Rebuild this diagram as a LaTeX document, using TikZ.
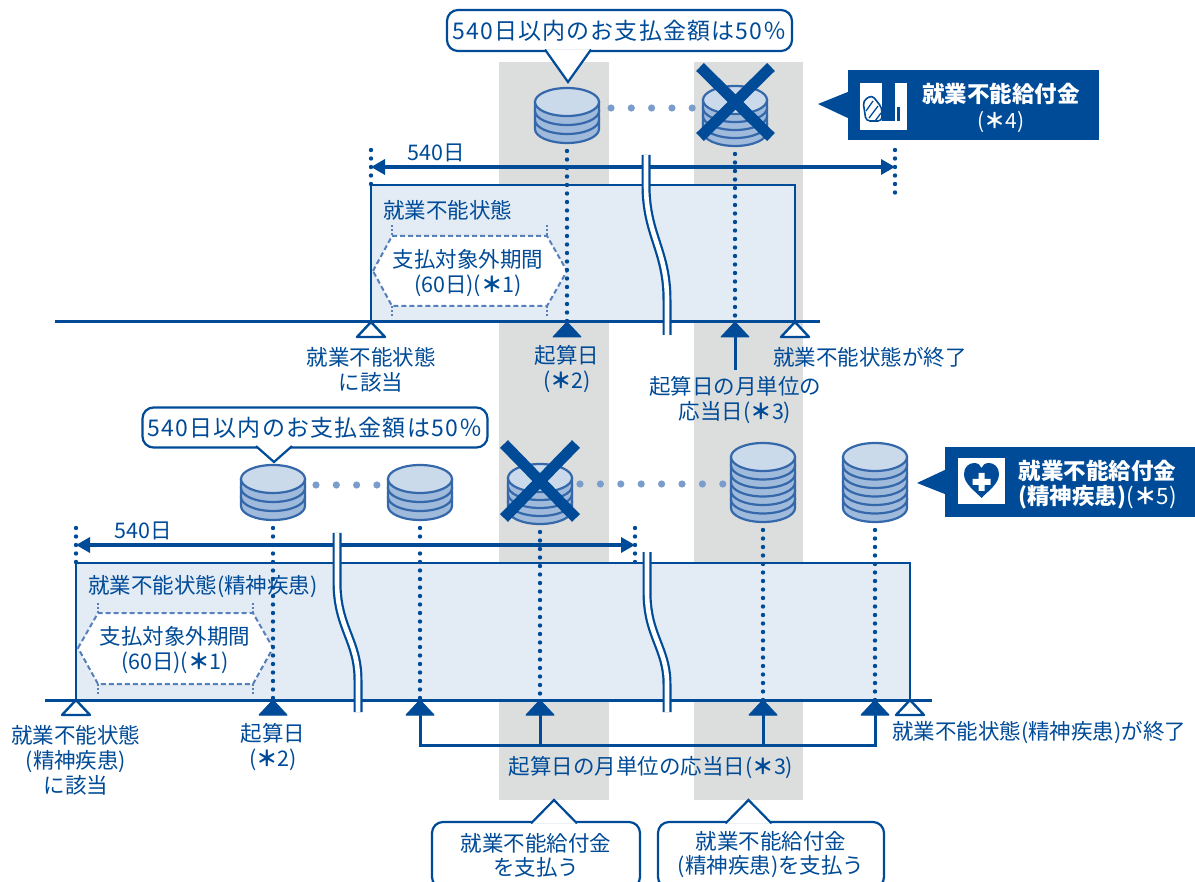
\documentclass[tikz,border=0pt]{standalone}
\usepackage{fontspec}
\setmainfont{Noto Sans CJK JP}
\usetikzlibrary{arrows.meta,positioning}

\definecolor{navy}{RGB}{0,75,151}
\definecolor{bandgray}{RGB}{220,221,221}
\definecolor{boxfill}{RGB}{227,235,245}
\definecolor{cointop}{RGB}{203,218,235}
\definecolor{coinside}{RGB}{160,186,219}
\definecolor{coinline}{RGB}{52,104,170}
\definecolor{hexline}{RGB}{85,128,186}
\definecolor{dotblue}{RGB}{122,157,204}

\newcommand{\kome}{{\bfseries ＊}}

% coin stack: name, x, y of top face, layers, layer height
\newcommand{\coinstack}[5]{%
  \foreach \k in {#4,...,1}{%
    \pgfmathsetmacro{\yy}{#3+(\k-1)*#5}
    \filldraw[coin, fill=coinside] (#2-32,\yy) -- (#2-32,\yy+#5)
      arc[start angle=180, end angle=0, x radius=32, y radius=14] -- (#2+32,\yy) -- cycle;
  }%
  \filldraw[coin, fill=cointop] (#2,#3) ellipse[x radius=32, y radius=14];
  \coordinate (#1) at (#2,#3);
  \coordinate (#1-b) at (#2,#3+#5*#4+14);
}

% speech pointer: tip, base centre, half width, shift into the box
\newcommand{\pointer}[4]{%
  \filldraw[draw=navy, fill=white, line width=2.2pt, line join=miter]
    ([xshift=-#3,yshift=#4]#2) -- (#1) -- ([xshift=#3,yshift=#4]#2);
}

\begin{document}
\begin{tikzpicture}[x=1pt, y=-1pt, >={Triangle[length=14pt, width=15pt]}]
\tikzset{
  txt/.style={font=\fontsize{21.5}{25}\selectfont, text=navy, align=center, inner sep=0pt},
  state/.style={draw=navy, line width=2.4pt, fill=boxfill},
  axis/.style={draw=navy, line width=3pt},
  vdots/.style={draw=navy, line width=4.4pt, line cap=round, dash pattern=on 0pt off 8.5pt},
  span/.style={draw=navy, line width=3.4pt, <->},
  hexa/.style={draw=hexline, line width=2pt, dash pattern=on 5pt off 3pt, fill=white},
  hexend/.style={draw=hexline, line width=2pt, dash pattern=on 2pt off 2pt},
  callout/.style={draw=navy, line width=2.2pt, fill=white, rounded corners=11pt, text=navy,
    font=\fontsize{23}{27}\selectfont\addfontfeature{LetterSpace=5}, align=center, inner sep=0pt},
  tag/.style={fill=navy, inner sep=0pt},
  wtxt/.style={font=\bfseries\fontsize{22.5}{26}\selectfont, text=white, inner sep=0pt},
  cross/.style={draw=navy, line width=11pt},
  coin/.style={draw=coinline, line width=2.2pt},
  brk/.style={draw=navy, line width=2.2pt, double=white, double distance=4.6pt},
  stem/.style={draw=navy, line width=3pt},
  tri/.style={draw=navy, line width=2.4pt, line join=round, fill=white},
  trifill/.style={draw=navy, fill=navy, line width=1pt, line join=round},
}
\useasboundingbox (0,0) rectangle (1195,882);

% payment months
\fill[bandgray] (499,62) rectangle (609,800);
\fill[bandgray] (694,62) rectangle (803,800);

% ---- upper case ----
\draw[state] (371,185) rectangle (795,322);
\draw[hexa] (373,271) -- (392,236) -- (547,236) -- (567,271) -- (547,306) -- (392,306) -- cycle;
\draw[hexend] (392,225) -- (392,236) (547,225) -- (547,236) (392,306) -- (392,316) (547,306) -- (547,316);
\node[txt, anchor=west] (st1) at (383,210) {就業不能状態};
\node[txt] (ex1) at (468,273.5) {支払対象外期間\\(60日)(\kome 1)};

\coordinate (on1) at (371,322);
\coordinate (d1) at (567,322);
\coordinate (m1) at (735,322);
\coordinate (off1) at (795,322);
\coordinate (a1l) at (371,167);
\coordinate (a1r) at (895,167);

\draw[vdots] (371,150) -- (371,184);
\draw[vdots] (895,150) -- (895,200);
\draw[span] (a1l) -- (a1r);
\node[txt] (len1) at (436,153) {540日};

\draw[axis] (55,322) -- (820,322);
\draw[brk] (646,155) -- (646,185) .. controls (646,235) and (667,250) .. (667,300) -- (667,335);

\coinstack{c1}{567}{102}{3}{9}
\coinstack{c2}{735}{100}{4}{8}
\foreach \i in {0,...,4} \fill[dotblue] (611+20.3*\i,108) circle[radius=3.6];
\draw[cross] (700,67) -- (771,137) (771,67) -- (700,137);

\draw[vdots] ([yshift=-8pt]c1-b) -- (d1);
\draw[vdots] ([yshift=-8pt]c2-b) -- (m1);

\draw[stem] (m1) -- (735,370);
\draw[tri] (on1) -- ++(-14,15) -- ++(28,0) -- cycle;
\draw[tri] (off1) -- ++(-14,15) -- ++(28,0) -- cycle;
\filldraw[trifill] (d1) -- ++(-14,15) -- ++(28,0) -- cycle;
\filldraw[trifill] (m1) -- ++(-14,15) -- ++(28,0) -- cycle;

\node[txt] (lb1) at (371,369.5) {就業不能状態\\に該当};
\node[txt] (lb2) at (567,369.5) {起算日\\(\kome 2)};
\node[txt] (lb3) at (735,400.5) {起算日の月単位の\\応当日(\kome 3)};
\node[txt, anchor=west] (lb4) at (773,357) {就業不能状態が終了};

\node[callout, minimum width=345pt, minimum height=41pt] (note1) at (619.5,30.5) {540日以内のお支払金額は50％};
\coordinate (tip1) at (568,82);
\coordinate (base1) at (tip1 |- note1.south);
\pointer{tip1}{base1}{23pt}{2.5pt}

\node[tag, minimum width=251pt, minimum height=70pt] (tag1) at (973.5,105) {};
\coordinate (tagtip1) at (818,104);
\fill[navy] ([yshift=13pt]tag1.west) -- (tagtip1) -- ([yshift=-13pt]tag1.west) -- cycle;
\fill[white] (860,83) rectangle (907,130);
\fill[navy] (882,83) rectangle (895,121);
\fill[navy] (897,107) rectangle (900,121);
\draw[navy, line width=1.6pt, rounded corners=4pt] (863,101) -- (872,95) -- (882,108) -- (882,121) -- (866,121) -- cycle;
\draw[navy, line width=1.3pt] (866,111) -- (873,101) (869,118) -- (878,106) (875,121) -- (881,113);
\node[wtxt] (tag1a) at (1001,94) {就業不能給付金};
\node[wtxt, font=\fontsize{21}{25}\selectfont] (tag1b) at (1001,122) {(\kome 4)};

% ---- lower case ----
\draw[state] (76,563) rectangle (910,700);
\draw[hexa] (78,648) -- (98,613) -- (253,613) -- (273,648) -- (253,684) -- (98,684) -- cycle;
\draw[hexend] (98,603) -- (98,613) (253,603) -- (253,613) (98,684) -- (98,695) (253,684) -- (253,695);
\node[txt, anchor=west] (st2) at (88,587) {就業不能状態(精神疾患)};
\node[txt] (ex2) at (175,650) {支払対象外期間\\(60日)(\kome 1)};

\coordinate (on2) at (76,700);
\coordinate (d2) at (273,700);
\coordinate (m2a) at (420,700);
\coordinate (m2b) at (540,700);
\coordinate (m2c) at (763,700);
\coordinate (m2d) at (875,700);
\coordinate (off2) at (910,700);
\coordinate (rail) at (0,745);
\coordinate (a2l) at (76,545);
\coordinate (a2r) at (635,545);

\draw[vdots] (76,528) -- (76,562);
\draw[vdots] (635,528) -- (635,562);
\draw[span] (a2l) -- (a2r);
\node[txt] (len2) at (143,531) {540日};

\draw[axis] (45,700) -- (932,700);
\draw[brk] (337,533) -- (337,582) .. controls (337,628) and (358,640) .. (358,680) -- (358,712);
\draw[brk] (647,552) -- (647,592) .. controls (647,636) and (667,648) .. (667,684) -- (667,712);

\coinstack{c3}{273}{479}{3}{9}
\coinstack{c4}{420}{479}{3}{9}
\coinstack{c5}{540}{478}{4}{8}
\coinstack{c6}{763}{457}{6}{8.5}
\coinstack{c7}{875}{457}{6}{8.5}
\foreach \i in {0,...,3} \fill[dotblue] (316+20.3*\i,485) circle[radius=3.6];
\foreach \i in {0,...,7} \fill[dotblue] (580+20.4*\i,484) circle[radius=3.6];
\draw[cross] (504,444) -- (576,518) (576,444) -- (504,518);

\foreach \c/\d in {c3/d2, c4/m2a, c5/m2b, c6/m2c, c7/m2d}
  \draw[vdots] ([yshift=-8pt]\c-b) -- (\d);

\draw[stem] (m2a) -- (m2a |- rail) -- (m2d |- rail) -- (m2d);
\draw[stem] (m2b) -- (m2b |- rail);
\draw[stem] (m2c) -- (m2c |- rail);
\draw[tri] (on2) -- ++(-14,15) -- ++(28,0) -- cycle;
\draw[tri] (off2) -- ++(-14,15) -- ++(28,0) -- cycle;
\foreach \p in {d2, m2a, m2b, m2c, m2d}
  \filldraw[trifill] (\p) -- ++(-14,15) -- ++(28,0) -- cycle;

\node[txt] (lb5) at (76,760) {就業不能状態\\(精神疾患)\\に該当};
\node[txt] (lb6) at (273,747.5) {起算日\\(\kome 2)};
\node[txt] (lb7) at (651,768) {起算日の月単位の応当日(\kome 3)};
\node[txt, anchor=west] (lb8) at (892,733) {就業不能状態(精神疾患)が終了};

\node[callout, minimum width=345pt, minimum height=40pt] (note2) at (315,427.5) {540日以内のお支払金額は50％};
\coordinate (tip2) at (274,462);
\coordinate (base2) at (tip2 |- note2.south);
\pointer{tip2}{base2}{18pt}{2.5pt}

\node[tag, minimum width=250pt, minimum height=70pt] (tag2) at (1070,482) {};
\coordinate (tagtip2) at (917,483);
\fill[navy] ([yshift=12pt]tag2.west) -- (tagtip2) -- ([yshift=-12pt]tag2.west) -- cycle;
\fill[white] (958,458) rectangle (1005,504);
\fill[navy] (981.5,498) .. controls (975,491) and (964,484) .. (964,474)
  .. controls (964,467) and (969,463) .. (974,463) .. controls (978,463) and (980.5,465) .. (981.5,468)
  .. controls (982.5,465) and (985,463) .. (989,463) .. controls (994,463) and (999,467) .. (999,474)
  .. controls (999,484) and (988,491) .. (981.5,498) -- cycle;
\fill[white] (978.5,473) rectangle (984.5,491) (972.5,479) rectangle (990.5,485);
\node[wtxt] (tag2a) at (1097.5,471) {就業不能給付金};
\node[wtxt] (tag2b) at (1097.5,497) {(精神疾患)\mdseries(\kome 5)};

% payment notes
\node[callout, minimum width=208pt, minimum height=66pt, font=\fontsize{21.5}{24}\selectfont] (pay1) at (536,855) {就業不能給付金\\を支払う};
\node[callout, minimum width=226pt, minimum height=66pt, font=\fontsize{21.5}{24}\selectfont] (pay2) at (771,855) {就業不能給付金\\(精神疾患)を支払う};
\coordinate (tip3) at (554,800);
\coordinate (tip4) at (748.5,800);
\coordinate (base3) at (tip3 |- pay1.north);
\coordinate (base4) at (tip4 |- pay2.north);
\pointer{tip3}{base3}{23pt}{-2.5pt}
\pointer{tip4}{base4}{23pt}{-2.5pt}
\end{tikzpicture}
\end{document}
